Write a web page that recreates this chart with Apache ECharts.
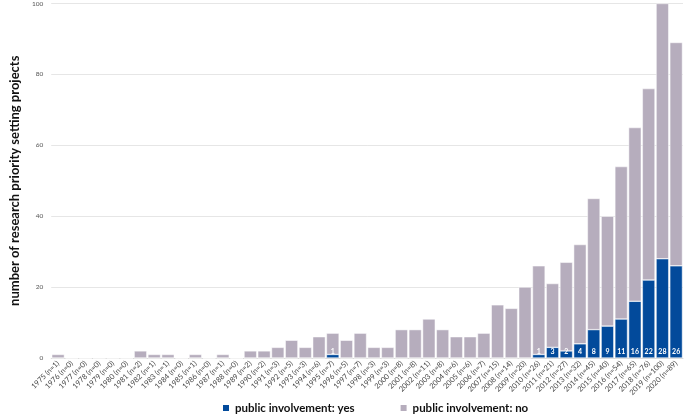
<!DOCTYPE html>
<html><head><meta charset="utf-8">
<script src="https://cdn.jsdelivr.net/npm/echarts@6/dist/echarts.min.js"></script>
<style>html,body{margin:0;padding:0;background:#fff}#c{width:685px;height:419px}</style>
</head><body><div id="c"></div>
<script>
var years = [1975,1976,1977,1978,1979,1980,1981,1982,1983,1984,1985,1986,1987,1988,1989,1990,1991,1992,1993,1994,1995,1996,1997,1998,1999,2000,2001,2002,2003,2004,2005,2006,2007,2008,2009,2010,2011,2012,2013,2014,2015,2016,2017,2018,2019,2020];
var totals = [1,0,0,0,0,0,2,1,1,0,1,0,1,0,2,2,3,5,3,6,7,5,7,3,3,8,8,11,8,6,6,7,15,14,20,26,21,27,32,45,40,54,65,76,100,89];
var yesValues = [0,0,0,0,0,0,0,0,0,0,0,0,0,0,0,0,0,0,0,0,1,0,0,0,0,0,0,0,0,0,0,0,0,0,0,1,3,2,4,8,9,11,16,22,28,26];
var noValues = totals.map(function(t,i){return t - yesValues[i];});
var categories = years.map(function(y,i){return y + ' (n=' + totals[i] + ')';});
var yTicks = [0,20,40,60,80,100];

var chart = echarts.init(document.getElementById('c'));
chart.setOption({
  animation:false,
  textStyle:{fontFamily:'Lato'},
  grid:{left:31,right:2,top:3,bottom:61},
  legend:{
    bottom:0,left:216,itemGap:44,itemWidth:8,itemHeight:8,icon:'rect',
    textStyle:{fontSize:11.5,fontWeight:'bold',color:'#111',fontFamily:'Lato'},
    data:['public involvement: yes','public involvement: no']
  },
  xAxis:{
    type:'category',data:categories,
    axisLine:{lineStyle:{color:'#d9d9d9'}},
    axisTick:{show:false},
    axisLabel:{rotate:45,fontSize:7.5,color:'#444',interval:0,margin:4}
  },
  yAxis:{
    type:'value',min:0,max:100,interval:20,
    name:'number of research priority setting projects',
    nameLocation:'middle',nameGap:19,
    nameTextStyle:{fontSize:13,fontWeight:'bold',color:'#111'},
    axisLabel:{fontSize:6.5,color:'#555',margin:8,formatter:function(v){return yTicks.indexOf(v)>=0?v:'';}},
    splitLine:{lineStyle:{color:'#e6e6e6'}},
    axisLine:{show:false},axisTick:{show:false}
  },
  series:[
    {name:'public involvement: yes',type:'bar',stack:'s',data:yesValues,barCategoryGap:'8%',
     itemStyle:{color:'#024a9b',borderColor:'#fff',borderWidth:0.5},
     label:{show:true,position:'insideBottom',distance:3,color:'#fff',fontSize:7,fontWeight:'bold',
       formatter:function(p){return p.value>0?p.value:'';}}},
    {name:'public involvement: no',type:'bar',stack:'s',data:noValues,
     itemStyle:{color:'#b6adbd',borderColor:'#fff',borderWidth:0.5}}
  ]
});
</script></body></html>
